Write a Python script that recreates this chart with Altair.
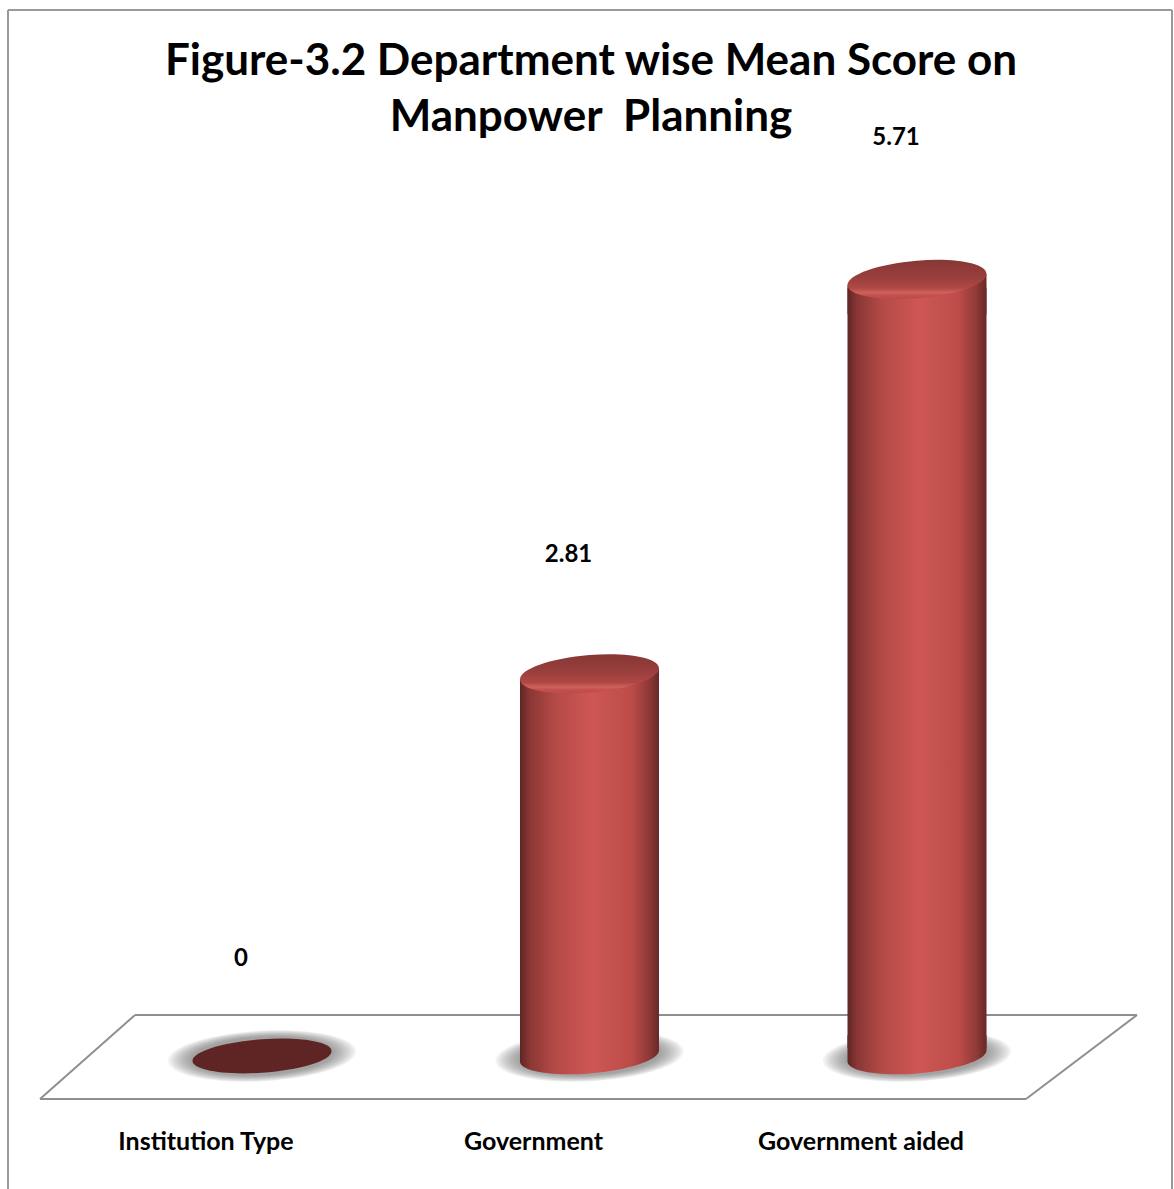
import altair as alt
import pandas as pd

# ---- data -------------------------------------------------------------
categories = ["Institution Type", "Government", "Government aided"]
scores = [0, 2.81, 5.71]
score_labels = ["0", "2.81", "5.71"]
title_lines = ["Figure-3.2 Department wise Mean Score on", "Manpower\u00a0\u00a0Planning"]

df = pd.DataFrame({"category": categories, "score": scores, "label": score_labels})

W, H = 1174, 1189
FONT = "Lato"

# ---- scales -----------------------------------------------------------
BASE_Y = 1056          # pixel row of the floor under the cylinders
PX_PER_UNIT = 136
x_scale = alt.Scale(type="point", domain=categories, range=[262, 917], padding=0)
y_scale = alt.Scale(domain=[0, 8], range=[BASE_Y, BASE_Y - PX_PER_UNIT * 8], nice=False, zero=False)
X = alt.X("category:N", scale=x_scale, axis=None)
Y_SCORE = alt.Y("score:Q", scale=y_scale, axis=None)
Y_FLOOR = alt.YDatum(0, scale=y_scale, axis=None)

# ---- cylinder geometry (symbols in the unit square) ---------------------
K = 0.5523
def ell(x, y, b, s):
    return (x, b * y - s * x)

def fmt(p):
    return f"{p[0]:.4f} {p[1]:.4f}"

def ellipse_path(b, s):
    segs = [
        [(1, K), (K, 1), (0, 1)],
        [(-K, 1), (-1, K), (-1, 0)],
        [(-1, -K), (-K, -1), (0, -1)],
        [(K, -1), (1, -K), (1, 0)],
    ]
    d = "M " + fmt(ell(1, 0, b, s))
    for seg in segs:
        d += " C " + ", ".join(fmt(ell(px, py, b, s)) for px, py in seg)
    return d + " Z"

def lower_half_path(b, s):
    # lower rim of the cylinder base, closed upward so it overlaps the body
    segs = [
        [(1, K), (K, 1), (0, 1)],
        [(-K, 1), (-1, K), (-1, 0)],
    ]
    d = "M " + fmt(ell(1, 0, b, s))
    for seg in segs:
        d += " C " + ", ".join(fmt(ell(px, py, b, s)) for px, py in seg)
    d += " L -1 -0.3 L 1 -0.3 Z"
    return d

def top_collar_path(s):
    # slanted strip under the cap so the body top follows the tilted rim
    return f"M 1 {-s:.4f} L -1 {s:.4f} L -1 0.5 L 1 0.5 Z"

SHEAR = 0.08
CAP_PATH = ellipse_path(0.27, SHEAR)
BOTTOM_PATH = lower_half_path(0.25, SHEAR)
COLLAR_PATH = top_collar_path(SHEAR)
SHADOW_PATH = ellipse_path(0.27, 0.05)
BAR_W = 139

body_grad = alt.LinearGradient(
    gradient="linear", x1=0, x2=1, y1=0, y2=0,
    stops=[
        alt.GradientStop(offset=0.0, color="#5e2524"),
        alt.GradientStop(offset=0.07, color="#8a3735"),
        alt.GradientStop(offset=0.25, color="#b44a46"),
        alt.GradientStop(offset=0.52, color="#cf5753"),
        alt.GradientStop(offset=0.62, color="#c65350"),
        alt.GradientStop(offset=0.8, color="#bd4c49"),
        alt.GradientStop(offset=0.93, color="#8e3937"),
        alt.GradientStop(offset=1.0, color="#672927"),
    ],
)
cap_grad = alt.LinearGradient(
    gradient="linear", x1=0, x2=0, y1=0, y2=1,
    stops=[
        alt.GradientStop(offset=0.0, color="#873735"),
        alt.GradientStop(offset=0.45, color="#993f3d"),
        alt.GradientStop(offset=0.72, color="#af4845"),
        alt.GradientStop(offset=0.84, color="#d0625c"),
        alt.GradientStop(offset=0.9, color="#c4514e"),
        alt.GradientStop(offset=1.0, color="#b94b48"),
    ],
)

positive = alt.datum.score > 0

# ---- frame and floor ----------------------------------------------------
one = pd.DataFrame({"k": [0]})

def rule(x1, y1, x2, y2, color="#9a9a9a", w=2):
    return alt.Chart(one).mark_rule(color=color, strokeWidth=w).encode(
        x=alt.value(x1), y=alt.value(y1), x2=alt.value(x2), y2=alt.value(y2)
    )

frame = rule(8, 10, 1172, 10) + rule(8, 10, 8, H) + rule(1172, 10, 1172, H)
floor = (
    rule(135, 1015, 1137, 1015, "#8f8f8f")
    + rule(40, 1099, 1026, 1099, "#8f8f8f")
    + rule(135, 1015, 40, 1099, "#8f8f8f")
    + rule(1137, 1015, 1026, 1099, "#8f8f8f")
)

# ---- soft shadows under each cylinder ----------------------------------
shadow_layers = []
for w in range(188, 142, -5):
    shadow_layers.append(
        alt.Chart(df).mark_point(
            shape=SHADOW_PATH, size=w * w, filled=True, fill="#6a6a6a",
            strokeWidth=0, opacity=0.085,
        ).encode(x=X, y=Y_FLOOR)
    )

# zero-valued category: flat disc
zero_disc = alt.Chart(df).transform_filter(alt.datum.score == 0).mark_point(
    shape=ellipse_path(0.24, 0.07), size=BAR_W * BAR_W, filled=True, fill="#5f2524",
    strokeWidth=0, opacity=1,
).encode(x=X, y=Y_SCORE)

body = alt.Chart(df).transform_filter(positive).mark_bar(
    size=BAR_W, fill=body_grad, strokeWidth=0, yOffset=8, y2Offset=-8
).encode(x=X, y=Y_SCORE, y2=alt.datum(0))

bottom = alt.Chart(df).transform_filter(positive).mark_point(
    shape=BOTTOM_PATH, size=BAR_W * BAR_W, filled=True, fill=body_grad,
    strokeWidth=0, opacity=1,
).encode(x=X, y=Y_FLOOR)

collar = alt.Chart(df).transform_filter(positive).mark_point(
    shape=COLLAR_PATH, size=BAR_W * BAR_W, filled=True, fill=body_grad,
    strokeWidth=0, opacity=1,
).encode(x=X, y=Y_SCORE)

cap = alt.Chart(df).transform_filter(positive).mark_point(
    shape=CAP_PATH, size=BAR_W * BAR_W, filled=True, fill=cap_grad,
    strokeWidth=0, opacity=1,
).encode(x=X, y=Y_SCORE)

# ---- value labels (placed along the chart's depth projection) ----------
values = alt.Chart(df).transform_calculate(
    label_pos="datum.score * 1.058 + 0.71"
).mark_text(
    font=FONT, fontSize=24, fontWeight="bold", color="#000000", dx=-21, baseline="middle"
).encode(
    x=X,
    y=alt.Y("label_pos:Q", scale=y_scale, axis=None),
    text="label:N",
)

cat_labels = alt.Chart(df).mark_text(
    font=FONT, fontSize=25, fontWeight="bold", color="#000000", dx=-56, baseline="middle"
).encode(x=X, y=alt.value(1142), text="category:N")

def title_line(text, y):
    return alt.Chart(pd.DataFrame({"line": [text]})).mark_text(
        font=FONT, fontSize=44, fontWeight="bold", color="#000000", baseline="middle"
    ).encode(x=alt.value(591), y=alt.value(y), text="line:N")

title = title_line(title_lines[0], 62) + title_line(title_lines[1], 118)

chart = alt.layer(
    frame, floor, *shadow_layers, zero_disc, body, bottom, collar, cap,
    values, cat_labels, title
).properties(
    width=W, height=H, padding=0, autosize=alt.AutoSizeParams(type="none"),
    background="white",
).configure_view(stroke=None).configure_axis(disable=True)

chart.save("out.html", embed_options={"renderer": "svg", "actions": False})
